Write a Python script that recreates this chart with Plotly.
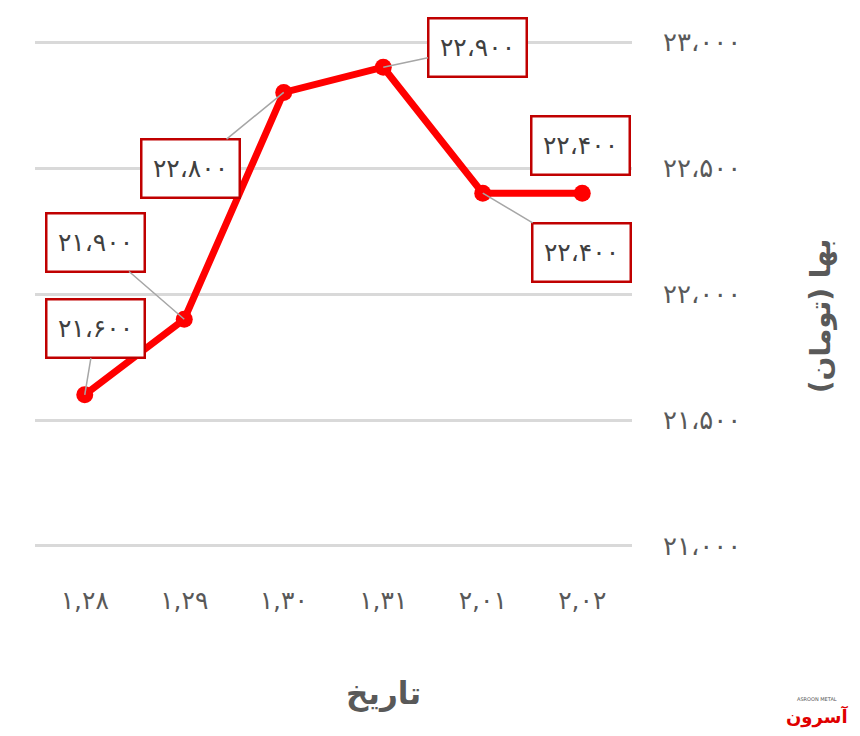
import plotly.graph_objects as go

# ---- data ----
categories = ["۱,۲۸", "۱,۲۹", "۱,۳۰", "۱,۳۱", "۲,۰۱", "۲,۰۲"]
prices = [21600, 21900, 22800, 22900, 22400, 22400]
y_tick_values = [21000, 21500, 22000, 22500, 23000]
y_tick_labels = ["۲۱،۰۰۰", "۲۱،۵۰۰", "۲۲،۰۰۰", "۲۲،۵۰۰", "۲۳،۰۰۰"]
x_title = "تاریخ"
y_title = "بها (تومان)"

FA = str.maketrans("0123456789", "۰۱۲۳۴۵۶۷۸۹")


def fa_num(v):
    return f"{v:,}".replace(",", "،").translate(FA)


# label offsets (pixels) and whether a leader line is shown
label_offsets = [(11, -66, True), (-89, -77, True), (-93, 76, True),
                 (94, -20, True), (99, 59, True), (-2, -48, False)]

FONT = "DejaVu Sans"

fig = go.Figure()
fig.add_trace(go.Scatter(
    x=list(range(len(categories))), y=prices, mode="lines+markers",
    line=dict(color="#FF0000", width=7),
    marker=dict(color="#FF0000", size=17),
    hoverinfo="skip", showlegend=False,
))

for i, (v, (ax, ay, lead)) in enumerate(zip(prices, label_offsets)):
    fig.add_annotation(
        x=i, y=v, ax=ax, ay=ay, text=fa_num(v),
        showarrow=True, arrowhead=0, arrowwidth=1.5,
        arrowcolor="#A6A6A6" if lead else "rgba(0,0,0,0)",
        font=dict(family=FONT, size=25, color="#404040"),
        bgcolor="white", bordercolor="#C00000", borderwidth=2.5,
        borderpad=2, width=92, height=52,
    )

# x axis title (offset like reference)
fig.add_annotation(
    xref="paper", yref="paper", x=0.583, y=-0.29, xanchor="center", yanchor="middle",
    text=f"<b>{x_title}</b>", showarrow=False,
    font=dict(family=FONT, size=31, color="#595959"),
)

# y axis title (right side, rotated)
fig.add_annotation(
    xref="paper", yref="paper", x=1.315, y=0.456, xanchor="center", yanchor="middle",
    text=f"<b>{y_title}</b>", showarrow=False, textangle=-90,
    font=dict(family=FONT, size=28, color="#595959"),
)

# logo-like watermark
fig.add_annotation(
    xref="paper", yref="paper", x=1.31, y=-0.335, xanchor="center", yanchor="middle",
    text="<b>آسرون</b>", showarrow=False,
    font=dict(family=FONT, size=18, color="#E00000"),
)
fig.add_annotation(
    xref="paper", yref="paper", x=1.31, y=-0.3, xanchor="center", yanchor="middle",
    text="ASROON METAL", showarrow=False,
    font=dict(family=FONT, size=5, color="#555555"),
)

fig.update_layout(
    width=860, height=736,
    margin=dict(l=27, r=236, t=33, b=197),
    paper_bgcolor="white", plot_bgcolor="white",
    font=dict(family=FONT, color="#595959"),
    xaxis=dict(
        tickmode="array", tickvals=list(range(len(categories))), ticktext=categories,
        range=[-0.5, len(categories) - 0.5], showgrid=False, zeroline=False,
        showline=False, ticks="", tickfont=dict(size=25, color="#595959"),
        ticklabelstandoff=36,
    ),
    yaxis=dict(
        side="right", range=[20996, 23004], tickmode="array",
        tickvals=y_tick_values, ticktext=y_tick_labels,
        showgrid=True, gridcolor="#D9D9D9", gridwidth=2.5, zeroline=False,
        showline=False, ticks="", tickfont=dict(size=26, color="#595959"),
        ticklabelstandoff=30,
    ),
)

fig.write_html("out.html")
